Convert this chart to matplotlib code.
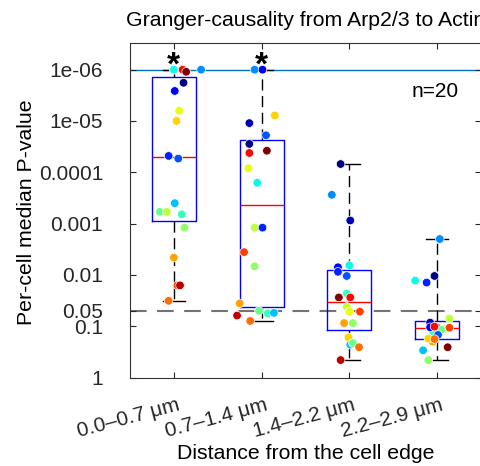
import numpy as np
import matplotlib
matplotlib.use('Agg')
import matplotlib.pyplot as plt
import matplotlib.transforms as mtransforms

plt.rcParams['font.family'] = ['Liberation Sans', 'DejaVu Sans']

# Distance bins
bins = ['0.0–0.7 μm', '0.7–1.4 μm', '1.4–2.2 μm', '2.2–2.9 μm']
n_cells = 20
signif = [True, True, False, False]

# Per-cell median p-values, cell index gives the colour, jitter is the x offset
cells_1 = [1, 7, 17, 19, 5, 0, 2, 12, 13, 3, 4, 6, 9, 11, 8, 10, 14, 16, 18, 15]
pval_1 = [1e-6, 1e-6, 1e-6, 1.1e-6, 1e-6, 1.8e-6, 2.6e-6, 6.3e-6, 1.0e-5, 4.8e-5,
          5.4e-5, 4.0e-4, 5.9e-4, 5.9e-4, 6.6e-4, 1.2e-3, 4.6e-3, 1.6e-2, 1.6e-2, 3.2e-2]
jitter_1 = [0.0, 0.0, 0.10, 0.14, 0.31, 0.11, 0.01, 0.06, 0.03, -0.06,
            0.05, 0.01, -0.16, -0.08, 0.09, 0.12, 0.0, 0.04, 0.07, -0.06]

cells_2 = [5, 2, 13, 1, 4, 0, 17, 19, 12, 7, 11, 3, 16, 10, 14, 9, 8, 6, 18, 15]
pval_2 = [1e-6, 1e-6, 7.8e-6, 1.1e-5, 1.9e-5, 2.8e-5, 4.2e-5, 3.8e-5, 8.3e-5, 1.6e-4,
          1.2e-3, 1.2e-3, 3.6e-3, 6.8e-3, 3.6e-2, 5.0e-2, 5.6e-2, 5.5e-2, 6.2e-2, 7.9e-2]
jitter_2 = [-0.08, 0.01, 0.15, -0.14, 0.05, -0.14, -0.14, 0.06, -0.15, -0.05,
            -0.08, 0.01, -0.20, -0.08, -0.25, -0.03, 0.07, 0.14, -0.28, -0.13]

cells_3 = [0, 5, 1, 2, 3, 7, 4, 8, 19, 17, 11, 12, 16, 14, 10, 13, 6, 9, 15, 18]
pval_3 = [6.9e-5, 2.75e-4, 8.7e-4, 7.1e-3, 8.7e-3, 6.5e-3, 1.05e-2, 2.3e-2, 2.75e-2, 2.75e-2,
          4.2e-2, 5.2e-2, 5.2e-2, 8.7e-2, 8.7e-2, 0.166, 0.229, 0.214, 0.257, 0.457]
jitter_3 = [-0.10, -0.20, 0.01, -0.13, -0.13, 0.0, -0.03, -0.03, -0.12, 0.01,
            -0.03, 0.0, 0.12, -0.06, 0.04, -0.01, 0.01, 0.04, 0.11, -0.10]

cells_4 = [18, 12, 9, 8, 1, 4, 2, 17, 16, 11, 5, 0, 7, 3, 14, 13, 15, 19, 6, 10]
pval_4 = [0.107, 0.112, 0.117, 0.126, 0.085, 0.148, 0.105, 0.102, 0.107, 0.071,
          0.002, 0.0105, 0.0129, 0.0141, 0.2, 0.174, 0.178, 0.257, 0.295, 0.457]
jitter_4 = [0.0, 0.10, 0.05, -0.05, -0.08, 0.01, -0.08, -0.03, 0.14, 0.14,
            0.03, -0.03, -0.25, -0.12, -0.05, -0.10, -0.03, 0.12, -0.16, -0.10]

cells = [cells_1, cells_2, cells_3, cells_4]
pvals = [pval_1, pval_2, pval_3, pval_4]
jitters = [jitter_1, jitter_2, jitter_3, jitter_4]

ytick_vals = [1e-6, 1e-5, 1e-4, 1e-3, 0.01, 0.05, 0.1, 1]
ytick_labels = ['1e-06', '1e-05', '0.0001', '0.001', '0.01', '0.05', '0.1', '1']

colors = plt.cm.jet(np.linspace(0, 1, n_cells))


def box_stats(p):
    # quartiles on -log10(p), matlab-like quantile definition, whiskers to extremes
    v = -np.log10(np.array(p))
    q1, med, q3 = np.percentile(v, [25, 50, 75], method='hazen')
    return dict(med=med, q1=q1, q3=q3, whislo=v.min(), whishi=v.max(), fliers=[])


fig = plt.figure(figsize=(4.8, 4.66), dpi=100)
ax = fig.add_axes([130 / 480, 88.5 / 466, 351 / 480, 334.5 / 466])

positions = np.arange(1, len(bins) + 1)
ax.bxp([box_stats(p) for p in pvals], positions=positions, widths=0.5, capwidths=0.25,
       showfliers=False, manage_ticks=False,
       boxprops=dict(color='blue', lw=1),
       medianprops=dict(color='red', lw=1),
       whiskerprops=dict(color='black', lw=1, linestyle=(0, (8, 4))),
       capprops=dict(color='black', lw=1))

# reference lines
ax.axhline(-np.log10(1e-6), color=(0, 0.447, 0.741), lw=1, zorder=1)
ax.axhline(-np.log10(0.05), color='0.45', lw=1.5, linestyle=(0, (8, 5)), zorder=1)

# per-cell points
for i in range(len(bins)):
    x = positions[i] + np.array(jitters[i])
    y = -np.log10(np.array(pvals[i]))
    ax.scatter(x, y, s=38, c=colors[cells[i]], edgecolors='white', linewidths=0.5, zorder=3)
    if signif[i]:
        ax.text(positions[i], 6.07, '*', fontsize=24, fontweight='bold', ha='center', va='center')

ax.text(4.25, 5.47, 'n=20', fontsize=15, ha='right', va='baseline')

ax.set_xlim(0.5, 4.5)
ax.set_ylim(0, 6.52)
ax.set_yticks(-np.log10(ytick_vals))
ax.set_yticklabels(ytick_labels)
ax.set_xticks(positions)

ax.tick_params(direction='in', top=True, right=True, length=4, labelsize=15, colors='0.15')
ax.tick_params(axis='y', pad=19.4)
ax.tick_params(axis='x', pad=13)
for sp in ax.spines.values():
    sp.set_color('0.2')

# rotated x labels, nudged right a little
ax.set_xticklabels(bins, rotation=15, ha='right', va='top')
shift = mtransforms.ScaledTranslation(8 / 100, 0, fig.dpi_scale_trans)
for lab in ax.get_xticklabels():
    lab.set_transform(lab.get_transform() + shift)

ax.set_title('Granger-causality from Arp2/3 to Actin', fontsize=15.3, pad=12)
ax.set_ylabel('Per-cell median P-value', fontsize=15.3)
ax.yaxis.set_label_coords(-0.268, 0.494)
ax.set_xlabel('Distance from the cell edge', fontsize=15.3)
ax.xaxis.set_label_coords(0.5, -0.199)

fig.savefig('out.png', dpi=100)
